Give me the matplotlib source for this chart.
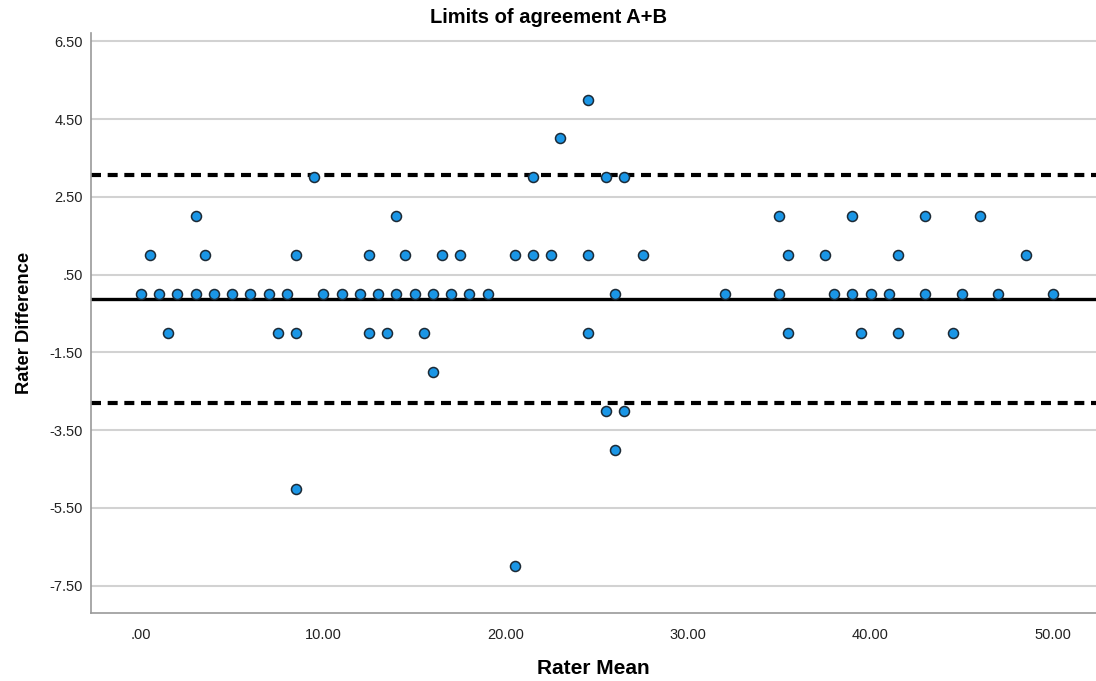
import matplotlib.pyplot as plt
from matplotlib.ticker import FuncFormatter

plt.rcParams['font.family'] = ['Liberation Sans', 'DejaVu Sans']

# Pontos (média dos avaliadores, diferença)
rater_mean = [
    0, 1, 2, 3, 4, 5, 6, 7, 8, 10, 11, 12, 13, 14, 15, 16, 17, 18, 19,
    26, 32, 35, 38, 39, 40, 41, 43, 45, 47, 50,
    0.5, 3.5, 8.5, 12.5, 14.5, 16.5, 17.5, 20.5, 21.5, 22.5, 24.5, 27.5,
    35.5, 37.5, 41.5, 48.5,
    3, 14, 35, 39, 43, 46,
    9.5, 21.5, 25.5, 26.5,
    23, 24.5,
    1.5, 7.5, 8.5, 12.5, 13.5, 15.5, 24.5, 35.5, 39.5, 41.5, 44.5,
    16, 25.5, 26.5, 26, 8.5, 20.5,
]
rater_diff = (
    [0] * 30
    + [1] * 16
    + [2] * 6
    + [3] * 4
    + [4, 5]
    + [-1] * 11
    + [-2, -3, -3, -4, -5, -7]
)

mean_diff = -0.12
upper_loa = 3.05
lower_loa = -2.81

y_ticks = [6.5, 4.5, 2.5, 0.5, -1.5, -3.5, -5.5, -7.5]
x_ticks = [0, 10, 20, 30, 40, 50]


def spss_fmt(v, pos=None):
    s = "%.2f" % v
    if s.startswith("0."):
        s = s[1:]
    elif s.startswith("-0."):
        s = "-" + s[2:]
    return s


fig = plt.figure(figsize=(10.96, 6.81), dpi=100)
ax = fig.add_axes([0.083, 0.0999, 0.917, 0.851])

ax.set_yticks(y_ticks)
ax.set_xticks(x_ticks)
ax.yaxis.set_major_formatter(FuncFormatter(spss_fmt))
ax.xaxis.set_major_formatter(FuncFormatter(spss_fmt))
ax.grid(axis="y", color="#d2d2d2", linewidth=1.5)
ax.set_axisbelow(True)

ax.axhline(mean_diff, color="black", linewidth=2.4, zorder=2)
ax.axhline(upper_loa, color="black", linewidth=3, dashes=(2.4, 1.6), zorder=2)
ax.axhline(lower_loa, color="black", linewidth=3, dashes=(2.4, 1.6), zorder=2)

ax.plot(rater_mean, rater_diff, linestyle="none", marker="o", markersize=7.2,
        markerfacecolor="#1a96e6", markeredgecolor="#1c2a36",
        markeredgewidth=1.1, zorder=3)

ax.set_xlim(-2.74, 52.36)
ax.set_ylim(-8.2, 6.7)

for side in ["top", "right"]:
    ax.spines[side].set_visible(False)
for side in ["left", "bottom"]:
    ax.spines[side].set_color("#9a9a9a")
    ax.spines[side].set_linewidth(1.2)

ax.tick_params(length=0, labelsize=10.5, colors="#222222")
ax.tick_params(axis="y", pad=6)
ax.tick_params(axis="x", pad=11)

ax.set_xlabel("Rater Mean", fontsize=15, fontweight="bold", labelpad=12)
ax.set_ylabel("Rater Difference", fontsize=13.2, fontweight="bold", labelpad=12)
fig.text(0.5, 0.975, "Limits of agreement A+B", ha="center", va="center",
         fontsize=14.5, fontweight="bold")

plt.savefig("out.png", dpi=100)
plt.close()
